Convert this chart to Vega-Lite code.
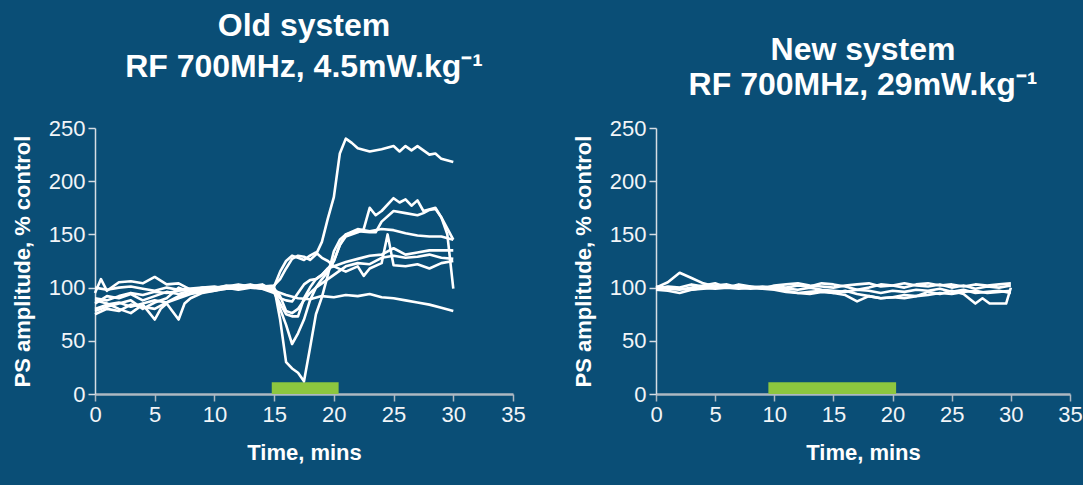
{
  "$schema": "https://vega.github.io/schema/vega-lite/v6.json",
  "background": "#0a4e76",
  "padding": {"left": 11, "top": 10, "right": 0, "bottom": 22},
  "spacing": 46,
  "config": {
    "view": {"stroke": null},
    "font": "Liberation Sans",
    "axis": {
      "grid": false,
      "labelFont": "Liberation Sans",
      "labelFontSize": 22,
      "labelColor": "#f2f5f8",
      "titleFont": "Liberation Sans",
      "titleFontSize": 22,
      "titleFontWeight": "bold",
      "titleColor": "#ffffff",
      "tickSize": 7,
      "labelPadding": 3
    },
    "axisY": {"domainColor": "#d6dde4", "tickColor": "#d6dde4", "domainWidth": 1.5, "tickWidth": 1.5, "titlePadding": 14},
    "axisX": {"domainColor": "#aeb8c2", "tickColor": "#aeb8c2", "domainWidth": 2.5, "tickWidth": 1.5, "titlePadding": 17, "labelFlush": false},
    "title": {"font": "Liberation Sans", "fontSize": 32, "fontWeight": "bold", "color": "#ffffff", "anchor": "middle", "frame": "group"}
  },
  "datasets": {
    "bars": [
      {"p": "old", "t0": 14.8, "t1": 20.4, "v0": 0, "v1": 11},
      {"p": "new", "t0": 9.5, "t1": 20.3, "v0": 0, "v1": 11}
    ],
    "old": [
      {"s":"a","t":0,"v":90},{"s":"a","t":1,"v":88},{"s":"a","t":2,"v":92},{"s":"a","t":3,"v":95},{"s":"a","t":4,"v":93},{"s":"a","t":5,"v":96},{"s":"a","t":6,"v":95},{"s":"a","t":7,"v":97},{"s":"a","t":8,"v":98},{"s":"a","t":9,"v":99},{"s":"a","t":10,"v":100},{"s":"a","t":11,"v":101},{"s":"a","t":12,"v":100},{"s":"a","t":13,"v":102},{"s":"a","t":14,"v":101},{"s":"a","t":15,"v":102},{"s":"a","t":15.5,"v":108},{"s":"a","t":16,"v":118},{"s":"a","t":16.5,"v":127},{"s":"a","t":17,"v":130},{"s":"a","t":17.5,"v":129},{"s":"a","t":18,"v":126},{"s":"a","t":18.5,"v":131},{"s":"a","t":19,"v":143},{"s":"a","t":19.5,"v":165},{"s":"a","t":20,"v":185},{"s":"a","t":20.5,"v":226},{"s":"a","t":21,"v":240},{"s":"a","t":21.5,"v":236},{"s":"a","t":22,"v":231},{"s":"a","t":23,"v":228},{"s":"a","t":24,"v":230},{"s":"a","t":25,"v":233},{"s":"a","t":25.5,"v":228},{"s":"a","t":26,"v":233},{"s":"a","t":26.5,"v":229},{"s":"a","t":27,"v":233},{"s":"a","t":28,"v":225},{"s":"a","t":28.5,"v":226},{"s":"a","t":29,"v":221},{"s":"a","t":30,"v":218},
      {"s":"b","t":0,"v":80},{"s":"b","t":1,"v":84},{"s":"b","t":2,"v":86},{"s":"b","t":3,"v":82},{"s":"b","t":4,"v":85},{"s":"b","t":5,"v":88},{"s":"b","t":6,"v":86},{"s":"b","t":7,"v":92},{"s":"b","t":8,"v":95},{"s":"b","t":9,"v":97},{"s":"b","t":10,"v":98},{"s":"b","t":11,"v":99},{"s":"b","t":12,"v":101},{"s":"b","t":13,"v":100},{"s":"b","t":14,"v":99},{"s":"b","t":15,"v":98},{"s":"b","t":15.5,"v":80},{"s":"b","t":16,"v":65},{"s":"b","t":16.5,"v":47},{"s":"b","t":17,"v":57},{"s":"b","t":17.5,"v":70},{"s":"b","t":18,"v":88},{"s":"b","t":18.5,"v":100},{"s":"b","t":19,"v":108},{"s":"b","t":19.5,"v":115},{"s":"b","t":20,"v":125},{"s":"b","t":20.5,"v":140},{"s":"b","t":21,"v":148},{"s":"b","t":22,"v":152},{"s":"b","t":22.5,"v":155},{"s":"b","t":23,"v":175},{"s":"b","t":23.5,"v":168},{"s":"b","t":24,"v":172},{"s":"b","t":25,"v":184},{"s":"b","t":25.5,"v":180},{"s":"b","t":26,"v":183},{"s":"b","t":26.5,"v":177},{"s":"b","t":27,"v":182},{"s":"b","t":27.5,"v":172},{"s":"b","t":28.5,"v":175},{"s":"b","t":29,"v":166},{"s":"b","t":30,"v":145},
      {"s":"c","t":0,"v":85},{"s":"c","t":1,"v":92},{"s":"c","t":2,"v":90},{"s":"c","t":3,"v":94},{"s":"c","t":4,"v":88},{"s":"c","t":5,"v":92},{"s":"c","t":6,"v":96},{"s":"c","t":7,"v":94},{"s":"c","t":8,"v":97},{"s":"c","t":9,"v":100},{"s":"c","t":10,"v":99},{"s":"c","t":11,"v":102},{"s":"c","t":12,"v":101},{"s":"c","t":13,"v":103},{"s":"c","t":14,"v":100},{"s":"c","t":15,"v":100},{"s":"c","t":15.5,"v":70},{"s":"c","t":16,"v":30},{"s":"c","t":16.5,"v":24},{"s":"c","t":17,"v":20},{"s":"c","t":17.5,"v":12},{"s":"c","t":18,"v":43},{"s":"c","t":18.5,"v":75},{"s":"c","t":19,"v":91},{"s":"c","t":19.5,"v":112},{"s":"c","t":20,"v":134},{"s":"c","t":20.5,"v":145},{"s":"c","t":21,"v":150},{"s":"c","t":22,"v":153},{"s":"c","t":23,"v":152},{"s":"c","t":23.5,"v":152},{"s":"c","t":24,"v":162},{"s":"c","t":25,"v":172},{"s":"c","t":26,"v":170},{"s":"c","t":27,"v":168},{"s":"c","t":27.5,"v":170},{"s":"c","t":28,"v":173},{"s":"c","t":28.5,"v":174},{"s":"c","t":29,"v":166},{"s":"c","t":29.5,"v":150},{"s":"c","t":30,"v":99},
      {"s":"d","t":0,"v":75},{"s":"d","t":1,"v":80},{"s":"d","t":2,"v":78},{"s":"d","t":3,"v":84},{"s":"d","t":4,"v":82},{"s":"d","t":5,"v":80},{"s":"d","t":6,"v":86},{"s":"d","t":7,"v":90},{"s":"d","t":8,"v":94},{"s":"d","t":9,"v":96},{"s":"d","t":10,"v":97},{"s":"d","t":11,"v":99},{"s":"d","t":12,"v":100},{"s":"d","t":13,"v":101},{"s":"d","t":14,"v":99},{"s":"d","t":15,"v":95},{"s":"d","t":15.5,"v":85},{"s":"d","t":16,"v":75},{"s":"d","t":16.5,"v":73},{"s":"d","t":17,"v":73},{"s":"d","t":17.5,"v":90},{"s":"d","t":18,"v":100},{"s":"d","t":18.5,"v":108},{"s":"d","t":19,"v":112},{"s":"d","t":19.5,"v":118},{"s":"d","t":20,"v":125},{"s":"d","t":20.5,"v":140},{"s":"d","t":21,"v":150},{"s":"d","t":22,"v":155},{"s":"d","t":23,"v":153},{"s":"d","t":24,"v":155},{"s":"d","t":25,"v":154},{"s":"d","t":26,"v":151},{"s":"d","t":27,"v":149},{"s":"d","t":28,"v":148},{"s":"d","t":29,"v":148},{"s":"d","t":30,"v":145},
      {"s":"e","t":0,"v":95},{"s":"e","t":0.5,"v":108},{"s":"e","t":1,"v":97},{"s":"e","t":2,"v":105},{"s":"e","t":3,"v":106},{"s":"e","t":4,"v":104},{"s":"e","t":5,"v":110},{"s":"e","t":6,"v":103},{"s":"e","t":7,"v":104},{"s":"e","t":8,"v":98},{"s":"e","t":9,"v":99},{"s":"e","t":10,"v":100},{"s":"e","t":11,"v":101},{"s":"e","t":12,"v":103},{"s":"e","t":13,"v":101},{"s":"e","t":14,"v":103},{"s":"e","t":15,"v":97},{"s":"e","t":15.5,"v":90},{"s":"e","t":16,"v":88},{"s":"e","t":16.5,"v":87},{"s":"e","t":17,"v":95},{"s":"e","t":17.5,"v":103},{"s":"e","t":18,"v":107},{"s":"e","t":18.5,"v":108},{"s":"e","t":19,"v":112},{"s":"e","t":19.5,"v":118},{"s":"e","t":20,"v":120},{"s":"e","t":21,"v":124},{"s":"e","t":22,"v":127},{"s":"e","t":23,"v":130},{"s":"e","t":24,"v":131},{"s":"e","t":25,"v":137},{"s":"e","t":26,"v":131},{"s":"e","t":27,"v":133},{"s":"e","t":28,"v":135},{"s":"e","t":29,"v":135},{"s":"e","t":30,"v":135},
      {"s":"f","t":0,"v":88},{"s":"f","t":1,"v":85},{"s":"f","t":2,"v":80},{"s":"f","t":3,"v":76},{"s":"f","t":4,"v":84},{"s":"f","t":5,"v":70},{"s":"f","t":5.5,"v":80},{"s":"f","t":6,"v":85},{"s":"f","t":7,"v":70},{"s":"f","t":7.5,"v":85},{"s":"f","t":8,"v":90},{"s":"f","t":9,"v":95},{"s":"f","t":10,"v":97},{"s":"f","t":11,"v":100},{"s":"f","t":12,"v":99},{"s":"f","t":13,"v":102},{"s":"f","t":14,"v":100},{"s":"f","t":15,"v":101},{"s":"f","t":15.5,"v":115},{"s":"f","t":16,"v":125},{"s":"f","t":16.5,"v":130},{"s":"f","t":17,"v":128},{"s":"f","t":17.5,"v":126},{"s":"f","t":18,"v":130},{"s":"f","t":18.5,"v":133},{"s":"f","t":19,"v":128},{"s":"f","t":19.5,"v":125},{"s":"f","t":20,"v":120},{"s":"f","t":21,"v":115},{"s":"f","t":22,"v":120},{"s":"f","t":22.5,"v":111},{"s":"f","t":23,"v":118},{"s":"f","t":24,"v":123},{"s":"f","t":24.5,"v":150},{"s":"f","t":25,"v":121},{"s":"f","t":26,"v":120},{"s":"f","t":27,"v":122},{"s":"f","t":28,"v":118},{"s":"f","t":29,"v":123},{"s":"f","t":30,"v":125},
      {"s":"g","t":0,"v":100},{"s":"g","t":1,"v":98},{"s":"g","t":2,"v":100},{"s":"g","t":3,"v":101},{"s":"g","t":4,"v":99},{"s":"g","t":5,"v":97},{"s":"g","t":6,"v":100},{"s":"g","t":7,"v":98},{"s":"g","t":8,"v":99},{"s":"g","t":9,"v":100},{"s":"g","t":10,"v":101},{"s":"g","t":11,"v":99},{"s":"g","t":12,"v":100},{"s":"g","t":13,"v":101},{"s":"g","t":14,"v":100},{"s":"g","t":15,"v":97},{"s":"g","t":16,"v":93},{"s":"g","t":17,"v":90},{"s":"g","t":18,"v":89},{"s":"g","t":19,"v":92},{"s":"g","t":20,"v":91},{"s":"g","t":21,"v":93},{"s":"g","t":22,"v":92},{"s":"g","t":23,"v":94},{"s":"g","t":24,"v":91},{"s":"g","t":25,"v":90},{"s":"g","t":26,"v":88},{"s":"g","t":27,"v":86},{"s":"g","t":28,"v":84},{"s":"g","t":29,"v":81},{"s":"g","t":30,"v":78},
      {"s":"h","t":0,"v":78},{"s":"h","t":1,"v":82},{"s":"h","t":2,"v":85},{"s":"h","t":3,"v":88},{"s":"h","t":4,"v":80},{"s":"h","t":5,"v":86},{"s":"h","t":6,"v":90},{"s":"h","t":7,"v":100},{"s":"h","t":8,"v":96},{"s":"h","t":9,"v":98},{"s":"h","t":10,"v":99},{"s":"h","t":11,"v":100},{"s":"h","t":12,"v":98},{"s":"h","t":13,"v":100},{"s":"h","t":14,"v":102},{"s":"h","t":15,"v":99},{"s":"h","t":15.5,"v":92},{"s":"h","t":16,"v":78},{"s":"h","t":16.5,"v":76},{"s":"h","t":17,"v":80},{"s":"h","t":17.5,"v":88},{"s":"h","t":18,"v":95},{"s":"h","t":18.5,"v":100},{"s":"h","t":19,"v":104},{"s":"h","t":20,"v":112},{"s":"h","t":21,"v":120},{"s":"h","t":22,"v":123},{"s":"h","t":23,"v":122},{"s":"h","t":24,"v":128},{"s":"h","t":25,"v":130},{"s":"h","t":26,"v":128},{"s":"h","t":27,"v":129},{"s":"h","t":28,"v":131},{"s":"h","t":29,"v":128},{"s":"h","t":30,"v":127}
    ],
    "new": [
      {"s":"r1","t":0,"v":100},{"s":"r1","t":1,"v":105},{"s":"r1","t":2,"v":114},{"s":"r1","t":3,"v":109},{"s":"r1","t":4,"v":104},{"s":"r1","t":5,"v":101},{"s":"r1","t":6,"v":100},{"s":"r1","t":7,"v":103},{"s":"r1","t":8,"v":101},{"s":"r1","t":9,"v":100},{"s":"r1","t":10,"v":101},{"s":"r1","t":11,"v":100},{"s":"r1","t":12,"v":102},{"s":"r1","t":13,"v":101},{"s":"r1","t":14,"v":104},{"s":"r1","t":15,"v":103},{"s":"r1","t":16,"v":101},{"s":"r1","t":17,"v":98},{"s":"r1","t":18,"v":100},{"s":"r1","t":19,"v":103},{"s":"r1","t":20,"v":102},{"s":"r1","t":21,"v":100},{"s":"r1","t":22,"v":103},{"s":"r1","t":23,"v":104},{"s":"r1","t":24,"v":102},{"s":"r1","t":25,"v":103},{"s":"r1","t":26,"v":101},{"s":"r1","t":27,"v":103},{"s":"r1","t":28,"v":102},{"s":"r1","t":29,"v":103},{"s":"r1","t":30,"v":104},
      {"s":"r2","t":0,"v":98},{"s":"r2","t":1,"v":97},{"s":"r2","t":2,"v":95},{"s":"r2","t":3,"v":98},{"s":"r2","t":4,"v":99},{"s":"r2","t":5,"v":100},{"s":"r2","t":6,"v":101},{"s":"r2","t":7,"v":100},{"s":"r2","t":8,"v":99},{"s":"r2","t":9,"v":100},{"s":"r2","t":10,"v":99},{"s":"r2","t":11,"v":97},{"s":"r2","t":12,"v":95},{"s":"r2","t":13,"v":94},{"s":"r2","t":14,"v":96},{"s":"r2","t":15,"v":95},{"s":"r2","t":16,"v":93},{"s":"r2","t":17,"v":87},{"s":"r2","t":18,"v":92},{"s":"r2","t":19,"v":90},{"s":"r2","t":20,"v":91},{"s":"r2","t":21,"v":93},{"s":"r2","t":22,"v":92},{"s":"r2","t":23,"v":96},{"s":"r2","t":24,"v":94},{"s":"r2","t":25,"v":97},{"s":"r2","t":26,"v":94},{"s":"r2","t":27,"v":85},{"s":"r2","t":27.6,"v":90},{"s":"r2","t":28.2,"v":85},{"s":"r2","t":29.6,"v":85},{"s":"r2","t":30,"v":100},
      {"s":"r3","t":0,"v":100},{"s":"r3","t":1,"v":99},{"s":"r3","t":2,"v":98},{"s":"r3","t":3,"v":100},{"s":"r3","t":4,"v":102},{"s":"r3","t":5,"v":104},{"s":"r3","t":6,"v":100},{"s":"r3","t":7,"v":101},{"s":"r3","t":8,"v":100},{"s":"r3","t":9,"v":99},{"s":"r3","t":10,"v":98},{"s":"r3","t":11,"v":96},{"s":"r3","t":12,"v":95},{"s":"r3","t":13,"v":96},{"s":"r3","t":14,"v":97},{"s":"r3","t":15,"v":95},{"s":"r3","t":16,"v":97},{"s":"r3","t":17,"v":94},{"s":"r3","t":18,"v":92},{"s":"r3","t":19,"v":90},{"s":"r3","t":20,"v":91},{"s":"r3","t":21,"v":90},{"s":"r3","t":22,"v":92},{"s":"r3","t":23,"v":93},{"s":"r3","t":24,"v":95},{"s":"r3","t":25,"v":94},{"s":"r3","t":26,"v":96},{"s":"r3","t":27,"v":97},{"s":"r3","t":28,"v":95},{"s":"r3","t":29,"v":96},{"s":"r3","t":30,"v":97},
      {"s":"r4","t":0,"v":99},{"s":"r4","t":1,"v":101},{"s":"r4","t":2,"v":100},{"s":"r4","t":3,"v":103},{"s":"r4","t":4,"v":101},{"s":"r4","t":5,"v":102},{"s":"r4","t":6,"v":103},{"s":"r4","t":7,"v":100},{"s":"r4","t":8,"v":101},{"s":"r4","t":9,"v":99},{"s":"r4","t":10,"v":102},{"s":"r4","t":11,"v":103},{"s":"r4","t":12,"v":104},{"s":"r4","t":13,"v":102},{"s":"r4","t":14,"v":101},{"s":"r4","t":15,"v":100},{"s":"r4","t":16,"v":102},{"s":"r4","t":17,"v":103},{"s":"r4","t":18,"v":104},{"s":"r4","t":19,"v":101},{"s":"r4","t":20,"v":102},{"s":"r4","t":21,"v":104},{"s":"r4","t":22,"v":102},{"s":"r4","t":23,"v":101},{"s":"r4","t":24,"v":103},{"s":"r4","t":25,"v":100},{"s":"r4","t":26,"v":102},{"s":"r4","t":27,"v":99},{"s":"r4","t":28,"v":101},{"s":"r4","t":29,"v":100},{"s":"r4","t":30,"v":102},
      {"s":"r5","t":0,"v":101},{"s":"r5","t":1,"v":100},{"s":"r5","t":2,"v":99},{"s":"r5","t":3,"v":98},{"s":"r5","t":4,"v":100},{"s":"r5","t":5,"v":99},{"s":"r5","t":6,"v":100},{"s":"r5","t":7,"v":99},{"s":"r5","t":8,"v":100},{"s":"r5","t":9,"v":101},{"s":"r5","t":10,"v":100},{"s":"r5","t":11,"v":99},{"s":"r5","t":12,"v":98},{"s":"r5","t":13,"v":100},{"s":"r5","t":14,"v":98},{"s":"r5","t":15,"v":97},{"s":"r5","t":16,"v":96},{"s":"r5","t":17,"v":98},{"s":"r5","t":18,"v":97},{"s":"r5","t":19,"v":95},{"s":"r5","t":20,"v":97},{"s":"r5","t":21,"v":96},{"s":"r5","t":22,"v":98},{"s":"r5","t":23,"v":97},{"s":"r5","t":24,"v":99},{"s":"r5","t":25,"v":96},{"s":"r5","t":26,"v":98},{"s":"r5","t":27,"v":95},{"s":"r5","t":28,"v":96},{"s":"r5","t":29,"v":97},{"s":"r5","t":30,"v":95}
    ]
  },
  "hconcat": [
    {
      "width": 418,
      "height": 266,
      "title": {"text": ["Old system", "RF 700MHz, 4.5mW.kg⁻¹"], "lineHeight": 41, "offset": 33},
      "layer": [
        {
          "data": {"name": "bars"},
          "transform": [{"filter": "datum.p === 'old'"}],
          "mark": {"type": "rect", "color": "#8dc63f"},
          "encoding": {
            "x": {"field": "t0", "type": "quantitative", "scale": {"domain": [0, 35], "nice": false}, "axis": {"values": [0,5,10,15,20,25,30,35], "title": "Time, mins"}},
            "x2": {"field": "t1"},
            "y": {"field": "v0", "type": "quantitative", "scale": {"domain": [0, 250], "nice": false}, "axis": {"values": [0,50,100,150,200,250], "title": "PS amplitude, % control"}},
            "y2": {"field": "v1"}
          }
        },
        {
          "data": {"name": "old"},
          "mark": {"type": "line", "color": "#ffffff", "strokeWidth": 2.6, "strokeJoin": "round"},
          "encoding": {
            "x": {"field": "t", "type": "quantitative"},
            "y": {"field": "v", "type": "quantitative"},
            "detail": {"field": "s"},
            "order": {"field": "t"}
          }
        }
      ]
    },
    {
      "width": 414,
      "height": 266,
      "title": {"text": ["New system", "RF 700MHz, 29mW.kg⁻¹"], "lineHeight": 35, "offset": 15},
      "layer": [
        {
          "data": {"name": "bars"},
          "transform": [{"filter": "datum.p === 'new'"}],
          "mark": {"type": "rect", "color": "#8dc63f"},
          "encoding": {
            "x": {"field": "t0", "type": "quantitative", "scale": {"domain": [0, 35], "nice": false}, "axis": {"values": [0,5,10,15,20,25,30,35], "title": "Time, mins"}},
            "x2": {"field": "t1"},
            "y": {"field": "v0", "type": "quantitative", "scale": {"domain": [0, 250], "nice": false}, "axis": {"values": [0,50,100,150,200,250], "title": "PS amplitude, % control"}},
            "y2": {"field": "v1"}
          }
        },
        {
          "data": {"name": "new"},
          "mark": {"type": "line", "color": "#ffffff", "strokeWidth": 2.6, "strokeJoin": "round"},
          "encoding": {
            "x": {"field": "t", "type": "quantitative"},
            "y": {"field": "v", "type": "quantitative"},
            "detail": {"field": "s"},
            "order": {"field": "t"}
          }
        }
      ]
    }
  ]
}
